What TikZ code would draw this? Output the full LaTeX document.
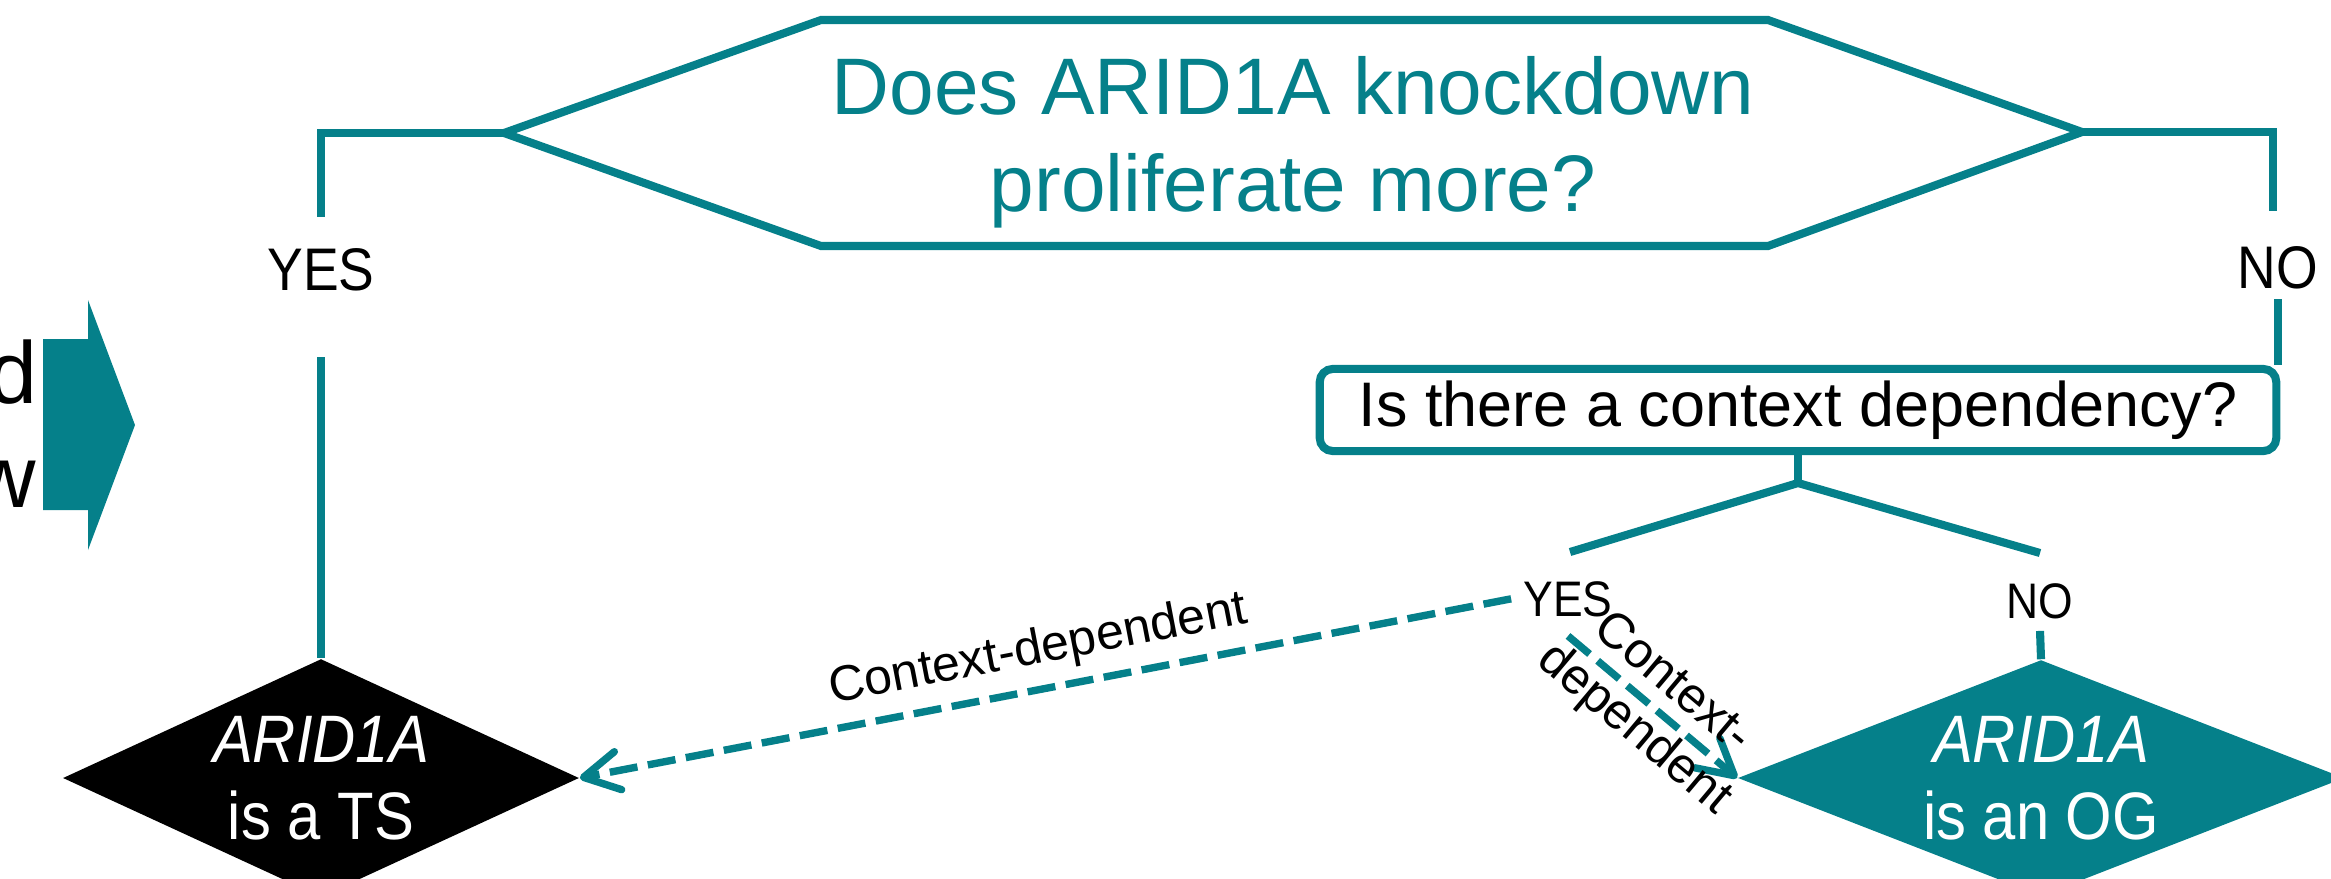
\documentclass[tikz,border=0pt]{standalone}
\usepackage{fontspec}
\setmainfont{Liberation Sans}
\usetikzlibrary{arrows.meta,positioning,shapes.geometric}
\definecolor{petrol}{RGB}{5,128,138}
\newcommand{\narrow}{\addfontfeatures{FakeStretch=0.89}}

\begin{document}
\begin{tikzpicture}[x=0.01cm, y=-0.01cm,
    line/.style={petrol, line width=2.3pt},
    dashline/.style={petrol, line width=2.1pt, dash pattern=on 8pt off 3pt,
                     -{Straight Barb[length=10pt, width=11pt, round]}},
    ans/.style={font=\fontsize{17.1}{20}\selectfont\narrow, anchor=base, inner sep=0pt},
    subans/.style={font=\fontsize{14.2}{17}\selectfont\narrow, anchor=base},
    verdict/.style={diamond, inner sep=0pt, minimum width=5.16cm, minimum height=2.38cm},
    vtext/.style={text=white, align=center, font=\fontsize{19.1}{21.9}\selectfont\narrow},
    ctx/.style={text=black, font=\fontsize{14.2}{17}\selectfont, sloped},
  ]
  \useasboundingbox (0,0) rectangle (2331,878);

  % cut-off text and block arrow on the left
  \node[font=\fontsize{25}{30}\selectfont, anchor=base east, inner sep=0pt] (partd) at (38,403) {d};
  \node[font=\fontsize{25}{30}\selectfont, anchor=base east, inner sep=0pt] (partw) at (37,507) {w};
  \fill[petrol] (43,339) -- (88,339) -- (88,300) -- (135,425) -- (88,550) -- (88,510) -- (43,510) -- cycle;

  % Main question
  \coordinate (hl) at (504,133);
  \coordinate (hr) at (2082,132);
  \draw[line] (hl) -- (821,20) -- (1768,20) -- (hr) -- (1768,246) -- (821,246) -- cycle;
  \node[text=petrol, align=center, font=\fontsize{22.8}{27.6}\selectfont] (q1) at (1293,142)
    {Does ARID1A knockdown\\proliferate more?};

  % YES branch
  \node[ans] (yes1) at (321,290) {YES};
  \coordinate (yesend) at (321,217);
  \draw[line] (hl) -| (yesend);
  \node[verdict, fill=black] (ts) at (321,778) {};
  \node[vtext] (tstext) at (ts.center) {\textit{ARID1A}\\is a TS};
  \draw[line] ([yshift=-0.66cm]yes1.south) -- (ts.north);

  % NO branch
  \node[ans] (no1) at (2278,288) {NO};
  \coordinate (noend) at (2273,211);
  \draw[line] (hr) -| (noend);
  \node[draw=petrol, line width=2.3pt, rounded corners=0.13cm, minimum width=9.56cm,
        minimum height=0.82cm, font=\fontsize{17.9}{21}\selectfont] (ctxq) at (1798,410)
    {Is there a context dependency?};
  \draw[line] ([yshift=-0.1cm]no1.south) -- (no1.south |- ctxq.north);

  % second split
  \coordinate (fork) at (1798,483);
  \coordinate (yesarm) at (1570,552);
  \coordinate (noarm) at (2040,553);
  \draw[line] (ctxq.south) -- (fork);
  \draw[line] (yesarm) -- (fork) -- (noarm);
  \node[subans] (yes2) at (1568,616) {YES};
  \node[subans] (no2) at (2040,618) {NO};

  \node[verdict, fill=petrol, minimum width=6.06cm, minimum height=2.36cm] (og) at (2041,778) {};
  \node[vtext] (ogtext) at (og.center) {\textit{ARID1A}\\is an OG};
  \draw[line] (no2.south) -- (og.north);

  % context-dependent links
  \draw[dashline] (yes2.west) -- (ts.east)
    node[ctx, midway, above] {Context-dependent};
  \draw[dashline] ([yshift=-0.07cm]yes2.south) -- (og.west)
    node[ctx, midway, align=center] {Context-\\dependent};
\end{tikzpicture}
\end{document}
